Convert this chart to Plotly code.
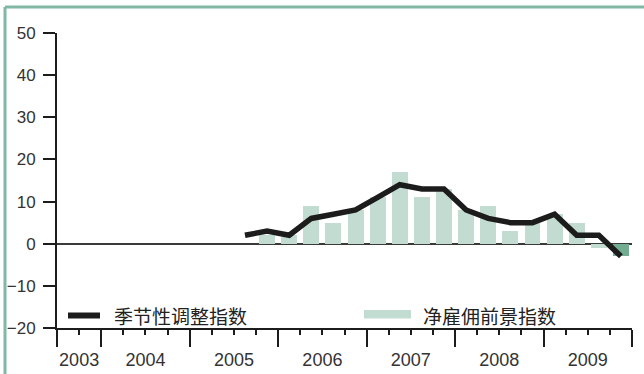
import plotly.graph_objects as go

# Quarterly survey results, 2005 Q3 – 2009 Q4
periods = ["2005Q3", "2005Q4", "2006Q1", "2006Q2", "2006Q3", "2006Q4",
           "2007Q1", "2007Q2", "2007Q3", "2007Q4", "2008Q1", "2008Q2",
           "2008Q3", "2008Q4", "2009Q1", "2009Q2", "2009Q3", "2009Q4"]
seasonal_adjusted = [2, 3, 2, 6, 7, 8, 11, 14, 13, 13, 8, 6, 5, 5, 7, 2, 2, -3]
net_outlook = [None, 2, 2, 9, 5, 8, 11, 17, 11, 13, 8, 9, 3, 5, 7, 5, -1, -3]

years = [2003, 2004, 2005, 2006, 2007, 2008, 2009]
year_labels = ["2003", "2004", "2005", "2006", "2007", "2008", "2009"]
y_ticks = [-20, -10, 0, 10, 20, 30, 40, 50]

series_names = ["季节性调整指数", "净雇佣前景指数"]

FIRST_YEAR, FIRST_Q = 2003, 3  # axis starts at 2003 Q3


def qpos(year, q):
    """Quarter index on the time axis (start of the quarter)."""
    return (year - FIRST_YEAR) * 4 + (q - FIRST_Q)


x_mid = [qpos(int(p[:4]), int(p[5])) + 0.5 for p in periods]
x_end = qpos(2009, 4) + 1
year_edges = [max(qpos(y, 1), 0) for y in years] + [x_end]
year_mid = [(year_edges[i] + year_edges[i + 1]) / 2 for i in range(len(years))]

BAR_LIGHT = "#c3dcd1"
BAR_LATEST = "#72ad92"
FRAME = "#80b8a3"
INK = "#1c1c1c"
TXT = "#333333"

bar_colors = [BAR_LIGHT] * (len(net_outlook) - 1) + [BAR_LATEST]

fig = go.Figure()
fig.add_trace(go.Bar(x=x_mid, y=net_outlook, width=0.72,
                     marker=dict(color=bar_colors, line=dict(width=0)),
                     name=series_names[1], showlegend=False))
fig.add_trace(go.Scatter(x=x_mid, y=seasonal_adjusted, mode="lines",
                         line=dict(color=INK, width=5.5),
                         name=series_names[0], showlegend=False))
# invisible trace carrying the year labels on a companion axis
fig.add_trace(go.Scatter(x=year_mid, y=[None] * len(year_mid), xaxis="x2",
                         showlegend=False, hoverinfo="skip"))

fig.update_layout(
    width=644, height=374,
    margin=dict(l=57, r=12, t=33, b=46),
    paper_bgcolor="white", plot_bgcolor="white",
    font=dict(family="Liberation Sans, Arial, sans-serif", color=TXT),
    bargap=0,
    xaxis=dict(range=[0, x_end], showgrid=False, zeroline=False,
               automargin=False,
               showline=True, linecolor=INK, linewidth=2,
               tickmode="array", tickvals=year_edges,
               ticktext=[""] * len(year_edges),
               ticks="outside", ticklen=17, tickwidth=2, tickcolor=INK,
               minor=dict(tickmode="linear", tick0=0, dtick=1,
                          ticks="outside", ticklen=5, tickwidth=2,
                          tickcolor=INK, showgrid=False)),
    xaxis2=dict(range=[0, x_end], overlaying="x", anchor="y", side="bottom",
                automargin=False,
                showgrid=False, zeroline=False, showline=False,
                tickmode="array", tickvals=year_mid, ticktext=year_labels,
                ticks="outside", ticklen=15, tickcolor="rgba(0,0,0,0)",
                tickfont=dict(size=18, color=TXT)),
    yaxis=dict(range=[-20, 50], tickmode="array", tickvals=y_ticks,
               automargin=False,
               showgrid=False, showline=True, linecolor=INK, linewidth=2,
               ticks="outside", ticklen=12, tickwidth=2, tickcolor=INK,
               tickfont=dict(size=17, color=TXT), ticklabelstandoff=4,
               zeroline=True, zerolinecolor="#3a3a3a", zerolinewidth=1.5),
)

# outer frame (top and left rules)
px_x = lambda p: (p - 57) / 575.0
px_y = lambda p: (328 - p) / 295.0
fig.add_shape(type="line", xref="paper", yref="paper",
              x0=px_x(5), x1=px_x(644), y0=px_y(7), y1=px_y(7),
              line=dict(color=FRAME, width=3))
fig.add_shape(type="line", xref="paper", yref="paper",
              x0=px_x(5), x1=px_x(5), y0=px_y(7), y1=px_y(374),
              line=dict(color=FRAME, width=3))

# legend
fig.add_shape(type="line", xref="paper", yref="paper",
              x0=px_x(68), x1=px_x(100), y0=px_y(315.5), y1=px_y(315.5),
              line=dict(color=INK, width=6))
fig.add_annotation(xref="paper", yref="paper", x=px_x(112), y=px_y(315.5),
                   text=series_names[0], showarrow=False, xanchor="left",
                   yanchor="middle", font=dict(size=19, color="#222222",
                   family="Noto Sans CJK SC"))
fig.add_shape(type="rect", xref="paper", yref="paper",
              x0=px_x(364), x1=px_x(411), y0=px_y(310), y1=px_y(318.5),
              fillcolor=BAR_LIGHT, line=dict(width=0))
fig.add_annotation(xref="paper", yref="paper", x=px_x(421), y=px_y(315.5),
                   text=series_names[1], showarrow=False, xanchor="left",
                   yanchor="middle", font=dict(size=19, color="#222222",
                   family="Noto Sans CJK SC"))

fig.write_html("out.html")
